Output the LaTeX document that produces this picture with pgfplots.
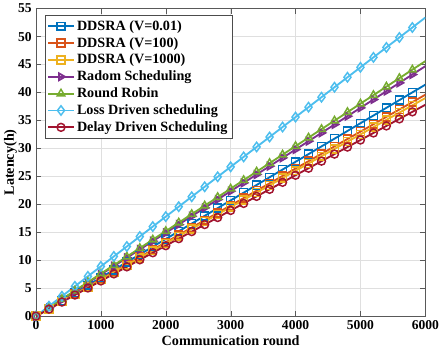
\documentclass[border=0pt]{standalone}
\usepackage{pgfplots}
\usepackage{pgfplotstable}
\pgfplotsset{compat=1.18}
\usepackage{fontspec}
\setmainfont{Liberation Serif}

\definecolor{mblue}{rgb}{0,0.447,0.741}
\definecolor{morange}{rgb}{0.85,0.325,0.098}
\definecolor{myellow}{rgb}{0.929,0.694,0.125}
\definecolor{mpurple}{rgb}{0.494,0.184,0.556}
\definecolor{mgreen}{rgb}{0.466,0.674,0.188}
\definecolor{mcyan}{rgb}{0.301,0.745,0.933}
\definecolor{mred}{rgb}{0.635,0.078,0.184}

\pgfplotstableread{
x    lb    g     p     b     o     yl    r
0    0     0     0     0     0     0     0
200  1.78  1.52  1.49  1.38  1.32  1.3   1.26
400  3.56  3.04  2.98  2.76  2.64  2.6   2.52
600  5.34  4.56  4.47  4.14  3.96  3.9   3.78
800  7.12  6.08  5.96  5.52  5.28  5.2   5.04
1000 8.90  7.60  7.45  6.90  6.60  6.5   6.30
1200 10.68 9.12  8.94  8.28  7.92  7.8   7.56
1400 12.46 10.64 10.43 9.66  9.24  9.1   8.82
1600 14.24 12.16 11.92 11.04 10.56 10.4  10.08
1800 16.02 13.68 13.41 12.42 11.88 11.7  11.34
2000 17.80 15.20 14.90 13.80 13.20 13.0  12.60
2200 19.58 16.72 16.39 15.18 14.52 14.3  13.86
2400 21.36 18.24 17.88 16.56 15.84 15.6  15.12
2600 23.14 19.76 19.37 17.94 17.16 16.9  16.38
2800 24.92 21.28 20.86 19.32 18.48 18.2  17.64
3000 26.70 22.80 22.35 20.70 19.80 19.5  18.90
3200 28.48 24.32 23.84 22.08 21.12 20.8  20.16
3400 30.26 25.84 25.33 23.46 22.44 22.1  21.42
3600 32.04 27.36 26.82 24.84 23.76 23.4  22.68
3800 33.82 28.88 28.31 26.22 25.08 24.7  23.94
4000 35.60 30.40 29.80 27.60 26.40 26.0  25.20
4200 37.38 31.92 31.29 28.98 27.72 27.3  26.46
4400 39.16 33.44 32.78 30.36 29.04 28.6  27.72
4600 40.94 34.96 34.27 31.74 30.36 29.9  28.98
4800 42.72 36.48 35.76 33.12 31.68 31.2  30.24
5000 44.50 38.00 37.25 34.50 33.00 32.5  31.50
5200 46.28 39.52 38.74 35.88 34.32 33.8  32.76
5400 48.06 41.04 40.23 37.26 35.64 35.1  34.02
5600 49.84 42.56 41.72 38.64 36.96 36.4  35.28
5800 51.62 44.08 43.21 40.02 38.28 37.7  36.54
6000 53.40 45.60 44.70 41.40 39.60 39.0  37.80
}\datatable

\begin{document}
\begin{tikzpicture}
\begin{axis}[
    width=316pt, height=249.6pt,
    scale only axis,
    xmin=0, xmax=6000, ymin=0, ymax=55,
    xtick={0,1000,...,6000},
    ytick={0,5,...,55},
    scaled x ticks=false,
    /pgf/number format/assume math mode=true,
    /pgf/number format/1000 sep={},
    tick label style={font=\fontsize{11}{12}\selectfont\bfseries},
    label style={font=\fontsize{11.5}{13}\selectfont\bfseries},
    xlabel={Communication round},
    ylabel={Latency(h)},
    xlabel style={yshift=2pt},
    ylabel style={yshift=-6pt},
    grid=major,
    major grid style={gray!25, line width=0.4pt},
    tick align=inside,
    axis line style={gray!70!black, line width=0.6pt},
    tick style={gray!70!black},
    legend cell align=left,
    legend style={at={(0.023,0.978)}, anchor=north west,
        font=\fontsize{11.5}{13}\selectfont\bfseries,
        draw=gray!60!black, line width=0.5pt, inner sep=1.8pt,
        row sep=0.2pt},
    legend image code/.code={%
        \draw[mark repeat=2, mark phase=2, mark indices={2}]
            plot coordinates {(0cm,0cm) (0.36cm,0cm) (0.72cm,0cm)};},
    every axis plot/.append style={line width=1.5pt, mark size=3.2pt,
        mark options={solid, line width=1.2pt, fill=none}, mark indices={1,...,30}},
]
\addplot[color=mblue, mark=square] table[x=x, y=b] {\datatable};
\addlegendentry{DDSRA (V=0.01)}
\addplot[color=morange, mark=square] table[x=x, y=o] {\datatable};
\addlegendentry{DDSRA (V=100)}
\addplot[color=myellow, mark=square] table[x=x, y=yl] {\datatable};
\addlegendentry{DDSRA (V=1000)}
\addplot[color=mpurple, mark=triangle, mark options={rotate=-90}] table[x=x, y=p] {\datatable};
\addlegendentry{Radom Scheduling}
\addplot[color=mgreen, mark=triangle, mark size=3.5pt] table[x=x, y=g] {\datatable};
\addlegendentry{Round Robin}
\addplot[color=mcyan, mark=diamond, mark size=3.8pt] table[x=x, y=lb] {\datatable};
\addlegendentry{Loss Driven scheduling}
\addplot[color=mred, mark=o] table[x=x, y=r] {\datatable};
\addlegendentry{Delay Driven Scheduling}
\end{axis}
\end{tikzpicture}
\end{document}
